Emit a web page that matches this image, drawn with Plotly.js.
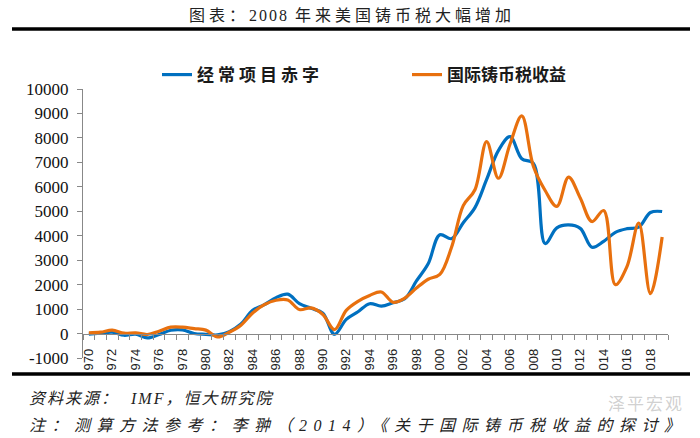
<!DOCTYPE html>
<html><head><meta charset="utf-8">
<script src="https://cdn.plot.ly/plotly-3.0.1.min.js"></script>
<style>html,body{margin:0;padding:0;background:#fff}#chart{width:700px;height:438px}</style>
</head><body><div id="chart"></div>
<script>
const years = [1970,1971,1972,1973,1974,1975,1976,1977,1978,1979,1980,1981,1982,1983,1984,1985,1986,1987,1988,1989,1990,1991,1992,1993,1994,1995,1996,1997,1998,1999,2000,2001,2002,2003,2004,2005,2006,2007,2008,2009,2010,2011,2012,2013,2014,2015,2016,2017,2018,2019];
const tickYears = [1970,1972,1974,1976,1978,1980,1982,1984,1986,1988,1990,1992,1994,1996,1998,2000,2002,2004,2006,2008,2010,2012,2014,2016,2018];
const tickLabels = ['1970','1972','1974','1976','1978','1980','1982','1984','1986','1988','1990','1992','1994','1996','1998','2000','2002','2004','2006','2008','2010','2012','2014','2016','2018'];
const deficit = [-20,15,55,-70,-25,-180,-40,135,150,0,-30,-55,80,390,950,1180,1470,1610,1220,1030,830,-30,580,890,1220,1120,1260,1420,2150,2850,4040,3880,4530,5150,6300,7480,8050,7150,6950,3680,4320,4440,4300,3530,3770,4140,4290,4350,4950,4990];
const seigniorage = [30,55,140,15,30,-40,95,260,260,200,140,-140,55,340,840,1180,1360,1370,980,1050,780,160,950,1320,1560,1700,1280,1450,1860,2220,2420,3530,5230,5880,7850,6350,7750,8900,6830,5850,5200,6400,5540,4580,5030,2000,2750,4520,1630,3950];
const seriesNames = ['经常项目赤字','国际铸币税收益'];
const seriesColors = ['#0070C0','#E8700E'];
const yTicks = [-1000,0,1000,2000,3000,4000,5000,6000,7000,8000,9000,10000];
const yTickLabels = ['-1000','0','1000','2000','3000','4000','5000','6000','7000','8000','9000','10000'];
const titleText = '图表：<span style="letter-spacing:2px">2008 </span>年来美国铸币税大幅增加';
const sourceText = '资料来源：  IMF，恒大研究院';
const noteText = '注：测算方法参考：李翀（2014）《关于国际铸币税收益的探讨》';
const markText = '泽平宏观';

const W = 700, H = 438, L = 83, R = 668, T = 89, B = 358.5;
const pw = R - L, ph = B - T;
const px = x => (x - L) / pw;
const py = y => (B - y) / ph;

const cjk = '"Noto Sans CJK SC", sans-serif';
const serifCjk = '"Liberation Serif", "Noto Sans CJK SC", serif';

const traces = [
  {x: years, y: deficit, name: seriesNames[0], type: 'scatter', mode: 'lines',
   line: {color: seriesColors[0], width: 3.2, shape: 'spline', smoothing: 1}, legend: 'legend'},
  {x: years, y: seigniorage, name: seriesNames[1], type: 'scatter', mode: 'lines',
   line: {color: seriesColors[1], width: 3.2, shape: 'spline', smoothing: 1}, legend: 'legend2'}
];

const legendFont = {family: cjk, size: 17, weight: 'bold', color: '#1a1a1a'};
const layout = {
  width: W, height: H,
  margin: {l: L, r: W - R, t: T, b: H - B, pad: 0},
  paper_bgcolor: '#fff', plot_bgcolor: '#fff',
  title: {text: titleText, x: 352 / W, xref: 'container', xanchor: 'center',
          y: 1 - 15 / H, yref: 'container', yanchor: 'middle',
          font: {family: serifCjk, size: 16, color: '#222'}},
  showlegend: true,
  legend: {orientation: 'h', x: px(157), xanchor: 'left', y: py(75), yanchor: 'middle',
           entrywidth: 170, entrywidthmode: 'pixels',
           bgcolor: 'rgba(0,0,0,0)', borderwidth: 0, font: legendFont},
  legend2: {orientation: 'h', x: px(407), xanchor: 'left', y: py(75), yanchor: 'middle',
           entrywidth: 190, entrywidthmode: 'pixels',
           bgcolor: 'rgba(0,0,0,0)', borderwidth: 0, font: legendFont},
  xaxis: {range: [1969.5, 2019.5], anchor: 'free', position: 1000 / 11000,
          showline: true, linecolor: '#888', linewidth: 1, showgrid: false, zeroline: false,
          tickmode: 'array', tickvals: tickYears, ticktext: tickLabels, tickangle: -90,
          ticks: 'outside', ticklen: 0, tickcolor: '#888',
          ticklabelstandoff: 9,
          minor: {tickmode: 'linear', tick0: 1969.5, dtick: 1, ticks: 'outside', ticklen: 5, tickcolor: '#888', tickwidth: 1, showgrid: false},
          tickfont: {family: '"Liberation Sans", Arial, sans-serif', size: 13, color: '#222'}},
  yaxis: {range: [-1000, 10000], showline: true, linecolor: '#888', linewidth: 1,
          showgrid: false, zeroline: false, tickmode: 'array', tickvals: yTicks, ticktext: yTickLabels,
          ticks: 'outside', ticklen: 5, tickcolor: '#888', ticklabelstandoff: 5,
          tickfont: {family: '"Liberation Serif", "Times New Roman", serif', size: 17, color: '#111'}},
  shapes: [
    {type: 'line', xref: 'paper', yref: 'paper', x0: px(12), x1: px(690), y0: py(29), y1: py(29),
     line: {color: '#000', width: 3.5}, layer: 'above'},
    {type: 'rect', xref: 'paper', yref: 'paper', x0: px(0), x1: px(700), y0: py(371), y1: py(440),
     fillcolor: '#fff', line: {width: 0}, layer: 'above'},
    {type: 'line', xref: 'paper', yref: 'paper', x0: px(12), x1: px(690), y0: py(374.5), y1: py(374.5),
     line: {color: '#000', width: 3.5}, layer: 'above'}
  ],
  annotations: [
    {text: sourceText, xref: 'paper', yref: 'paper', x: px(27), y: py(399), xanchor: 'left', yanchor: 'middle', align: 'left',
     showarrow: false, font: {family: serifCjk, size: 16, style: 'italic', color: '#222'}},
    {text: noteText, xref: 'paper', yref: 'paper', x: px(27), y: py(426), xanchor: 'left', yanchor: 'middle', align: 'left',
     showarrow: false, font: {family: serifCjk, size: 16, style: 'italic', color: '#222'}},
    {text: markText, xref: 'paper', yref: 'paper', x: px(646), y: py(403), xanchor: 'center', yanchor: 'middle',
     showarrow: false, font: {family: cjk, size: 17, color: 'rgba(150,150,150,0.45)'}}
  ]
};

Plotly.newPlot('chart', traces, layout, {displayModeBar: false, staticPlot: true}).then(gd => {
  const t = gd.querySelector('.gtitle');
  if (t) t.style.letterSpacing = '4px';
  gd.querySelectorAll('.legendtext').forEach(n => { n.style.letterSpacing = '4px'; });
  const sp = ['2px', '6.5px', '2px'];
  gd.querySelectorAll('g.annotation').forEach(g => {
    const i = +g.getAttribute('data-index');
    const tx = g.querySelector('text');
    if (tx) tx.style.letterSpacing = sp[i] || '0px';
  });
});
</script>
</body></html>
